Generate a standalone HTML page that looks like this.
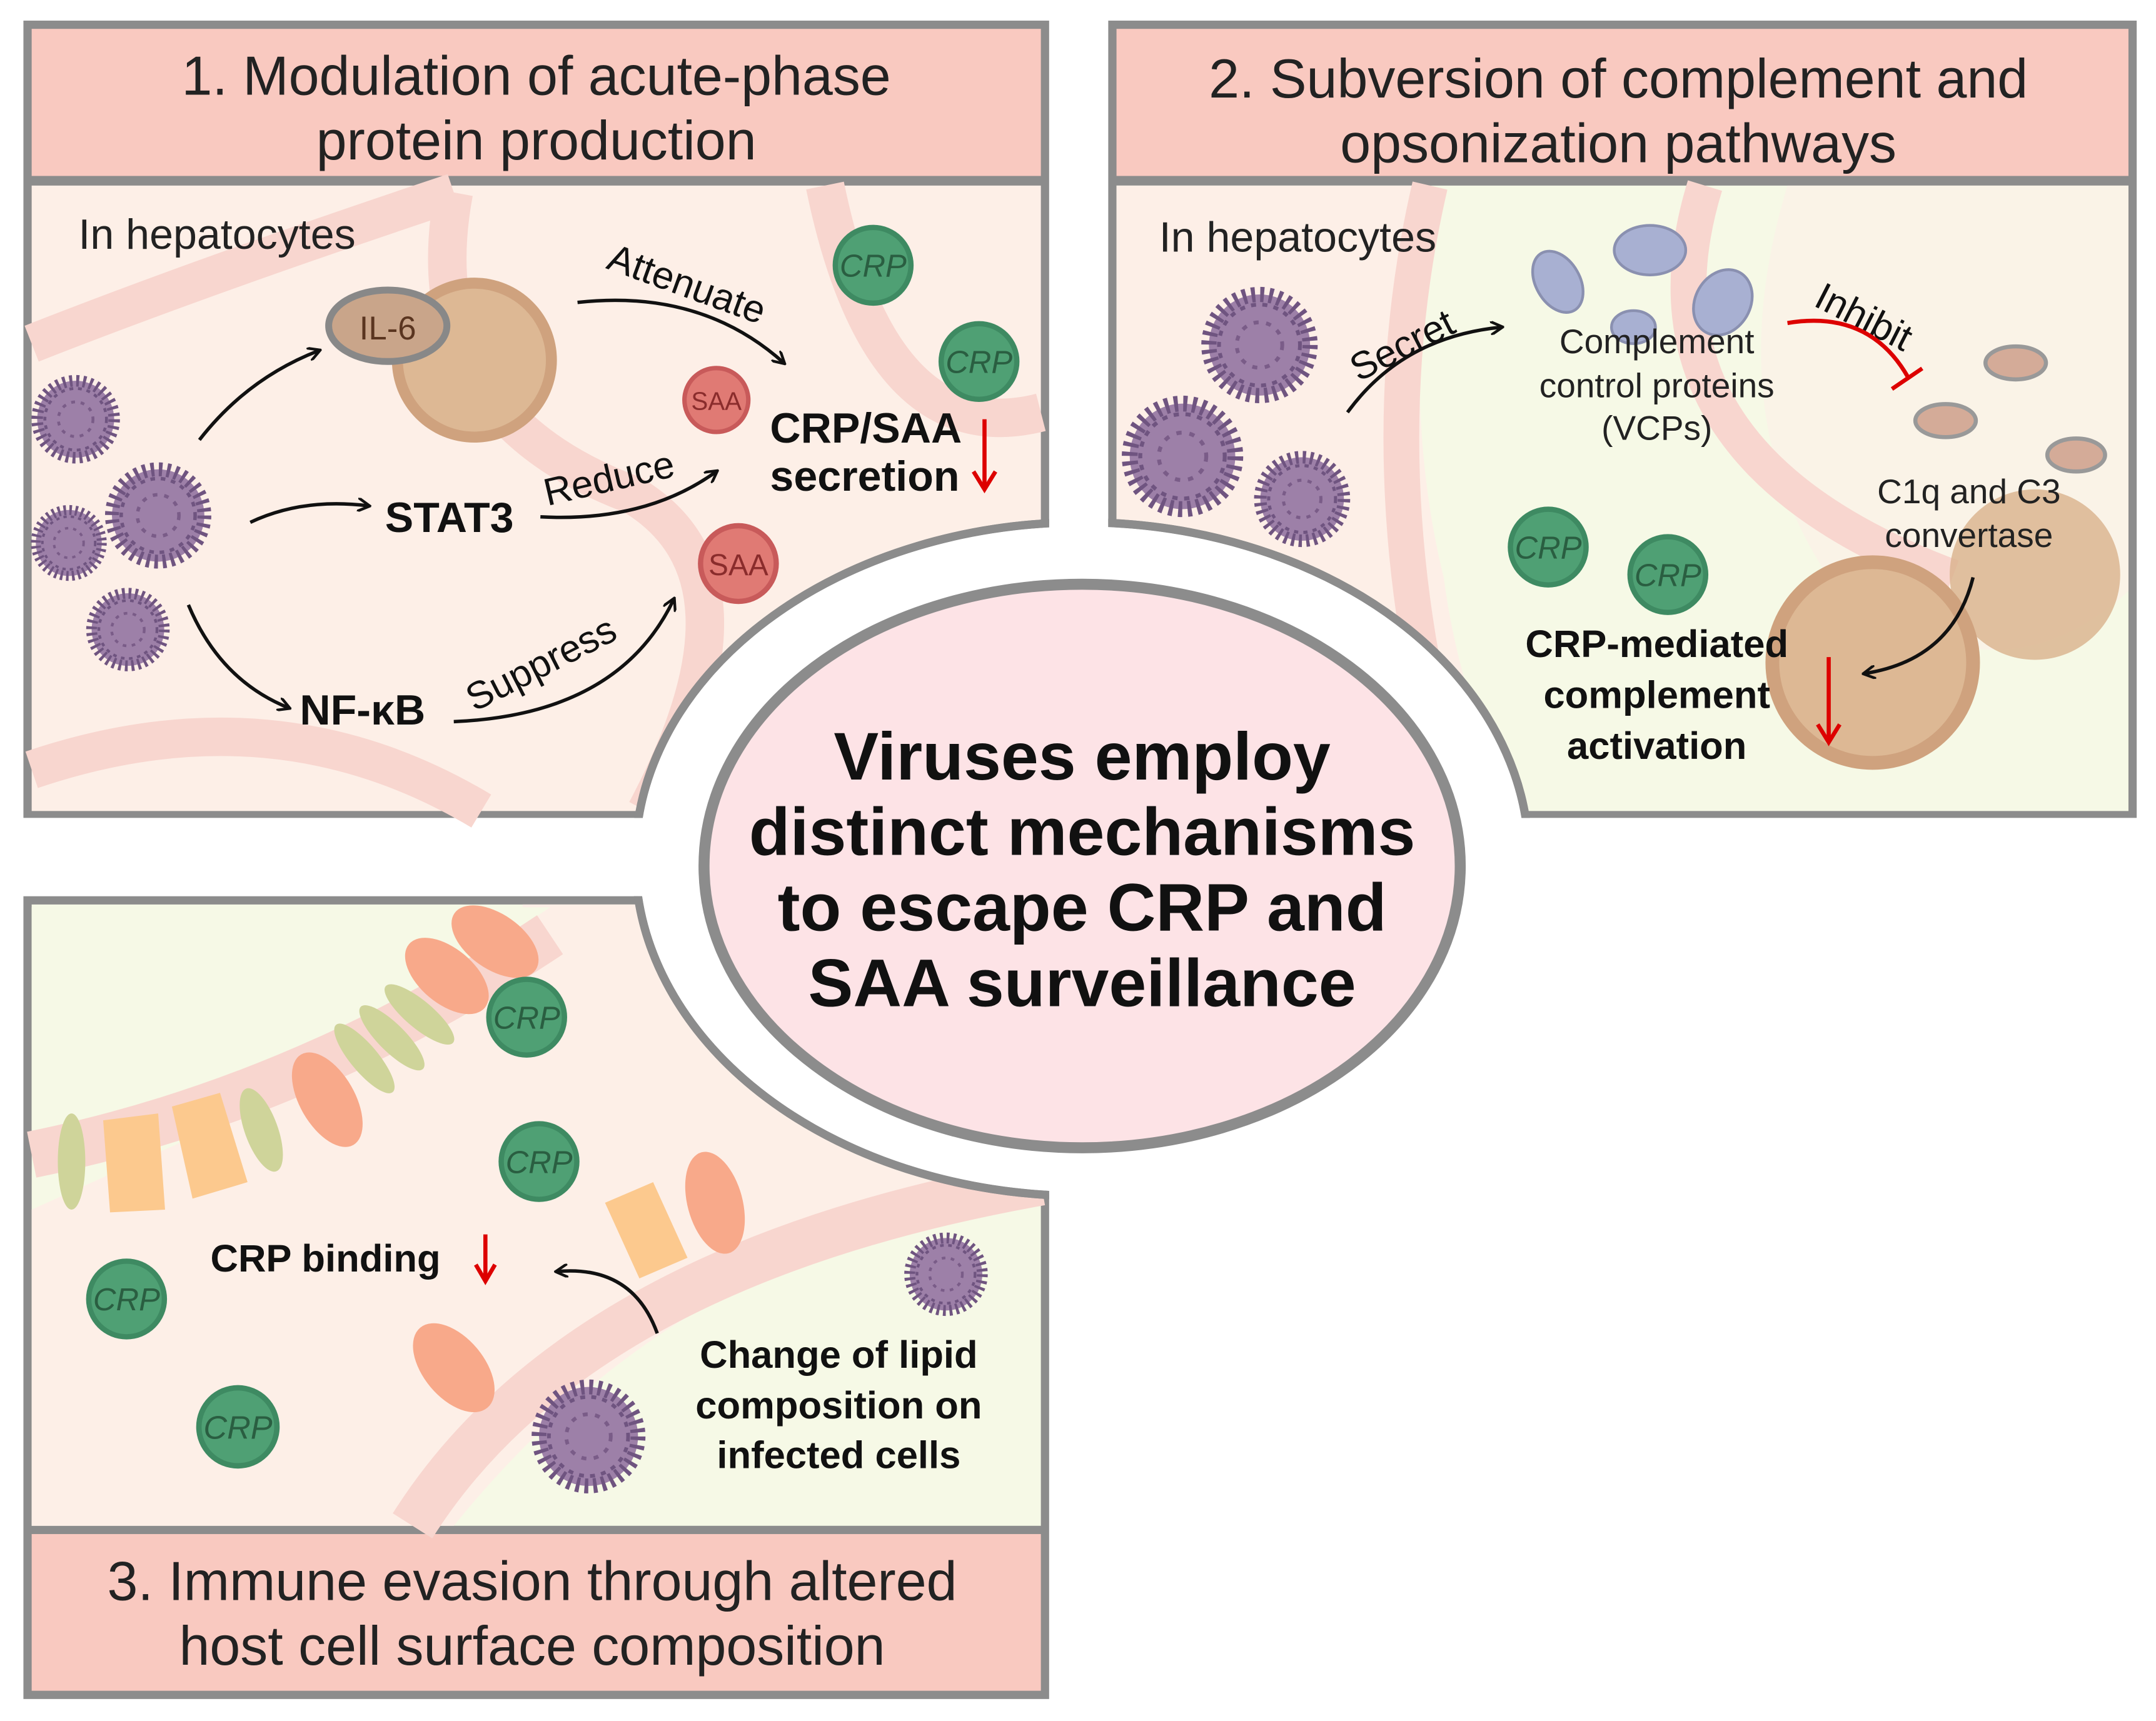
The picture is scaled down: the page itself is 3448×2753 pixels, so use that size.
<!DOCTYPE html>
<html><head><meta charset="utf-8"><style>html,body{margin:0;padding:0;background:#fff}svg{display:block}</style></head>
<body>
<svg width="3448" height="2753" viewBox="0 0 1568 1252" xmlns="http://www.w3.org/2000/svg" font-family="Liberation Sans, sans-serif">
<defs>
<symbol id="v" viewBox="-50 -50 100 100"><circle r="40" fill="#9d80a8" stroke="#6f5480" stroke-width="12" stroke-dasharray="3 4"/><circle r="32" fill="none" stroke="#6f5480" stroke-width="3" stroke-dasharray="4 5"/><circle r="18" fill="none" stroke="#7a5c88" stroke-width="3" stroke-dasharray="4 6"/></symbol>
<symbol id="c" viewBox="-50 -50 100 100"><circle r="46" fill="#3e8a62"/><circle r="40" fill="#4fa074"/><text x="0" y="13" text-anchor="middle" font-size="36" fill="#2a5e41" font-style="italic" font-family="Liberation Sans Narrow, Liberation Sans, sans-serif">CRP</text></symbol>
<symbol id="s" viewBox="-50 -50 100 100"><circle r="46" fill="#c85a5a"/><circle r="40" fill="#e07a74"/><text x="0" y="13" text-anchor="middle" font-size="34" fill="#8a2c2c" font-family="Liberation Sans Narrow, Liberation Sans, sans-serif">SAA</text></symbol>
<marker id="a" markerWidth="10" markerHeight="10" refX="8" refY="5" orient="auto" markerUnits="userSpaceOnUse"><path d="M0,0 L9,5 L0,10" fill="none" stroke="#111" stroke-width="2"/></marker>
<clipPath id="pc"><rect x="17" y="15" width="746" height="580"/><rect x="806" y="15" width="748" height="580"/><rect x="17" y="652" width="746" height="584"/></clipPath>
</defs>
<rect width="1568" height="1252" fill="#fff"/>
<!-- Panel 1 -->
<rect x="17" y="15" width="746" height="580" fill="#8c8c8c"/>
<rect x="23" y="21" width="734" height="107" fill="#f9c9c0"/>
<rect x="23" y="135" width="734" height="455" fill="#fdefe7"/>
<g fill="none" stroke="#f8d6cf" stroke-width="28">
<path d="M23,250 Q150,200 330,140"/><path d="M330,140 Q300,300 460,360 Q560,420 470,590"/><path d="M23,560 Q200,500 350,590"/><path d="M600,135 Q640,330 757,300"/>
</g>
<!-- Panel 2 -->
<rect x="806" y="15" width="748" height="580" fill="#8c8c8c"/>
<rect x="812" y="21" width="736" height="107" fill="#f9c9c0"/>
<rect x="812" y="135" width="736" height="455" fill="#f6f9e6"/>
<path d="M812,135 L1040,135 Q1020,300 1050,420 Q1060,500 1100,590 L812,590 Z" fill="#fdefe7"/>
<path d="M1300,135 Q1250,300 1330,420 Q1450,520 1548,430 L1548,135 Z" fill="#fdefe7" opacity="0.6"/>
<g fill="none" stroke="#f8d6cf" stroke-width="26"><path d="M1240,135 Q1180,330 1420,420"/><path d="M1040,135 Q990,350 1060,590"/></g>
<!-- Panel 3 -->
<rect x="17" y="652" width="746" height="584" fill="#8c8c8c"/>
<rect x="23" y="658" width="734" height="452" fill="#f6f9e6"/>
<path d="M23,880 Q200,800 380,720 L380,658 L757,658 L757,870 Q500,900 330,1110 L23,1110 Z" fill="#fdefe7"/>
<path d="M23,840 L23,660 L400,660 Q200,800 23,840Z" fill="#f6f9e6"/>
<rect x="23" y="1116" width="734" height="114" fill="#f9c9c0"/>
<g fill="none" stroke="#f8d6cf" stroke-width="34"><path d="M23,840 Q220,800 400,680"/><path d="M300,1110 Q420,920 757,860"/></g>
<g>
<ellipse cx="52" cy="845" rx="10" ry="35" fill="#cfd49a"/>
<path d="M75,815 L115,810 L120,880 L80,882Z" fill="#fcc98e"/>
<path d="M125,805 L160,795 L180,860 L140,872Z" fill="#fcc98e"/>
<ellipse cx="190" cy="822" rx="12" ry="32" fill="#cfd49a" transform="rotate(-20 190 822)"/>
<ellipse cx="238" cy="800" rx="20" ry="38" fill="#f8a98a" transform="rotate(-30 238 800)"/>
<ellipse cx="265" cy="770" rx="10" ry="32" fill="#cfd49a" transform="rotate(-40 265 770)"/>
<ellipse cx="285" cy="755" rx="10" ry="32" fill="#cfd49a" transform="rotate(-45 285 755)"/>
<ellipse cx="305" cy="738" rx="10" ry="32" fill="#cfd49a" transform="rotate(-50 305 738)"/>
<ellipse cx="325" cy="710" rx="20" ry="36" fill="#f8a98a" transform="rotate(-50 325 710)"/>
<ellipse cx="360" cy="685" rx="20" ry="36" fill="#f8a98a" transform="rotate(-55 360 685)"/>
<path d="M440,875 L475,860 L500,915 L465,930Z" fill="#fcc98e"/>
<ellipse cx="520" cy="875" rx="20" ry="38" fill="#f8a98a" transform="rotate(-15 520 875)"/>
<ellipse cx="330" cy="995" rx="22" ry="38" fill="#f8a98a" transform="rotate(-40 330 995)"/>
</g>
<!-- central cutout -->
<g clip-path="url(#pc)"><ellipse cx="787" cy="625" rx="325" ry="245" fill="#fff" stroke="#8c8c8c" stroke-width="6"/></g>
<ellipse cx="787" cy="625" rx="322" ry="242" fill="#fff"/>
<g clip-path="url(#pc)"><ellipse cx="787" cy="625" rx="325" ry="245" fill="none" stroke="#8c8c8c" stroke-width="6"/></g>
<ellipse cx="787" cy="630" rx="275" ry="205" fill="#fde3e6" stroke="#8c8c8c" stroke-width="8"/>
<g font-weight="bold" font-size="49" text-anchor="middle" fill="#111">
<text x="787" y="567">Viruses employ</text><text x="787" y="622">distinct mechanisms</text><text x="787" y="677">to escape CRP and</text><text x="787" y="732">SAA surveillance</text></g>
<!-- headers -->
<g font-size="40" text-anchor="middle" fill="#222">
<text x="390" y="69">1. Modulation of acute-phase</text><text x="390" y="116">protein production</text>
<text x="1177" y="71">2. Subversion of complement and</text><text x="1177" y="118">opsonization pathways</text>
<text x="387" y="1164">3. Immune evasion through altered</text><text x="387" y="1211">host cell surface composition</text></g>
<!-- Panel 1 content -->
<text x="57" y="181" font-size="31" fill="#222">In hepatocytes</text>
<circle cx="345" cy="262" r="60" fill="#cfa27e"/><circle cx="345" cy="262" r="52" fill="#ddb894"/>
<ellipse cx="282" cy="237" rx="43" ry="26" fill="#c9a58a" stroke="#888" stroke-width="5"/>
<text x="282" y="247" font-size="24" text-anchor="middle" fill="#5a3520" font-family="Liberation Sans Narrow, sans-serif">IL-6</text>
<use href="#v" x="20" y="270" width="70" height="70"/><use href="#v" x="73" y="333" width="84" height="84"/><use href="#v" x="20" y="365" width="60" height="60"/><use href="#v" x="60" y="425" width="66" height="66"/>
<use href="#c" x="603" y="161" width="64" height="64"/><use href="#c" x="680" y="231" width="64" height="64"/>
<use href="#s" x="494" y="264" width="54" height="54"/><use href="#s" x="505" y="378" width="64" height="64"/>
<g font-weight="bold" font-size="31" fill="#111"><text x="280" y="387">STAT3</text><text x="218" y="527">NF-κB</text><text x="560" y="322">CRP/SAA</text><text x="560" y="357">secretion</text></g>
<g stroke="#d00" stroke-width="3" fill="none"><line x1="716" y1="305" x2="716" y2="354"/><path d="M708,343 L716,356 L724,343"/></g>
<g fill="none" stroke="#111" stroke-width="2.5" marker-end="url(#a)">
<path d="M145,320 Q180,275 232,255"/><path d="M182,380 Q220,362 268,368"/><path d="M137,440 Q160,495 210,515"/>
<path d="M420,220 Q510,210 570,264"/><path d="M393,376 Q470,380 521,343"/><path d="M330,525 Q450,520 490,436"/></g>
<g font-size="28" fill="#111"><text transform="translate(440,195) rotate(20)">Attenuate</text><text transform="translate(398,368) rotate(-13)">Reduce</text><text transform="translate(345,518) rotate(-27)">Suppress</text></g>
<!-- Panel 2 content -->
<text x="843" y="183" font-size="31" fill="#222">In hepatocytes</text>
<use href="#v" x="870" y="205" width="92" height="92"/><use href="#v" x="812" y="284" width="96" height="96"/><use href="#v" x="909" y="325" width="76" height="76"/>
<path d="M980,300 Q1020,245 1092,238" fill="none" stroke="#111" stroke-width="2.5" marker-end="url(#a)"/>
<text transform="translate(988,278) rotate(-27)" font-size="28" fill="#111">Secret</text>
<g fill="#a8b0d2" stroke="#8a90b0" stroke-width="2"><ellipse cx="1133" cy="205" rx="16" ry="24" transform="rotate(-30 1133 205)"/><ellipse cx="1200" cy="182" rx="26" ry="18"/><ellipse cx="1188" cy="238" rx="16" ry="12"/><ellipse cx="1253" cy="220" rx="20" ry="25" transform="rotate(30 1253 220)"/></g>
<text transform="translate(1318,222) rotate(27)" font-size="28" fill="#111">Inhibit</text>
<path d="M1300,235 Q1360,225 1388,275" fill="none" stroke="#d00" stroke-width="3"/><line x1="1376" y1="283" x2="1398" y2="268" stroke="#d00" stroke-width="3"/>
<g fill="#d4ab98" stroke="#999" stroke-width="3"><ellipse cx="1466" cy="264" rx="22" ry="12"/><ellipse cx="1415" cy="306" rx="22" ry="12"/><ellipse cx="1510" cy="331" rx="21" ry="12"/></g>
<circle cx="1480" cy="418" r="62" fill="#d9b28c" opacity="0.8"/><circle cx="1362" cy="482" r="78" fill="#cfa27e"/><circle cx="1362" cy="482" r="68" fill="#ddb894"/>
<g font-size="25" text-anchor="middle" fill="#222"><text x="1205" y="257">Complement</text><text x="1205" y="289">control proteins</text><text x="1205" y="320">(VCPs)</text><text x="1432" y="366">C1q and C3</text><text x="1432" y="398">convertase</text></g>
<use href="#c" x="1094" y="366" width="64" height="64"/><use href="#c" x="1181" y="386" width="64" height="64"/>
<g font-weight="bold" font-size="28" text-anchor="middle" fill="#111"><text x="1205" y="478">CRP-mediated</text><text x="1205" y="515">complement</text><text x="1205" y="552">activation</text></g>
<g stroke="#d00" stroke-width="3" fill="none"><line x1="1330" y1="478" x2="1330" y2="538"/><path d="M1322,527 L1330,540 L1338,527"/></g>
<path d="M1435,420 Q1420,480 1356,490" fill="none" stroke="#111" stroke-width="2.5" marker-end="url(#a)"/>
<!-- Panel 3 content -->
<use href="#c" x="351" y="708" width="64" height="64"/><use href="#c" x="360" y="813" width="64" height="64"/><use href="#c" x="60" y="913" width="64" height="64"/><use href="#c" x="140" y="1005" width="66" height="66"/>
<use href="#v" x="655" y="894" width="66" height="66"/><use href="#v" x="383" y="1000" width="90" height="90"/>
<text x="153" y="925" font-weight="bold" font-size="28" fill="#111">CRP binding</text>
<g stroke="#d00" stroke-width="3" fill="none"><line x1="353" y1="898" x2="353" y2="930"/><path d="M346,920 L353,932 L360,920"/></g>
<path d="M478,970 Q460,920 405,925" fill="none" stroke="#111" stroke-width="2.5" marker-end="url(#a)"/>
<g font-weight="bold" font-size="28" text-anchor="middle" fill="#111"><text x="610" y="995">Change of lipid</text><text x="610" y="1032">composition on</text><text x="610" y="1068">infected cells</text></g>
</svg>
</body></html>
